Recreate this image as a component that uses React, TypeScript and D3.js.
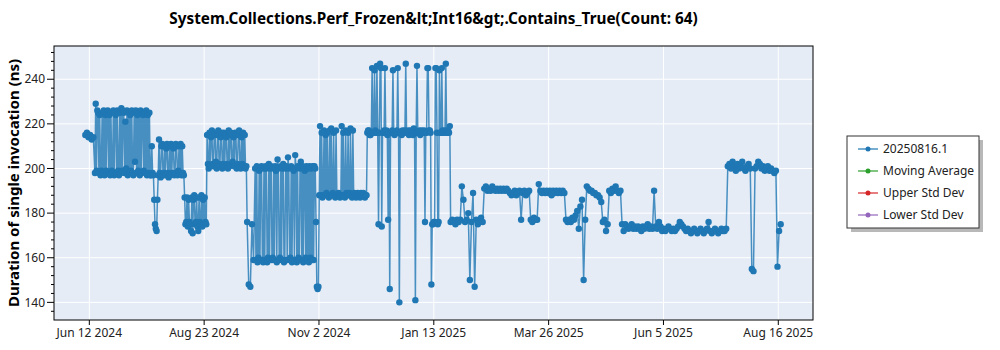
import React from "react";
import * as d3 from "d3";

// ---- data ----
const segmentStartDates = [
  "2024-06-10", "2024-06-16", "2024-07-21", "2024-08-11", "2024-08-25",
  "2024-09-19", "2024-09-24", "2024-11-03", "2024-12-03", "2025-01-24",
  "2025-02-14", "2025-04-06", "2025-04-19", "2025-05-13", "2025-07-16",
];
// measurements per day in each segment (some periods were run twice a day)
const segmentRunsPerDay = [1, 2, 2, 2, 2, 1, 2, 2, 2, 1, 1, 1, 1, 1, 1];

const juneBlock = [215, 216, 214, 215, 213, 214];
const juneJulyBlock = [198, 229, 199, 226, 225, 198, 224, 197, 199, 225, 198, 226, 197, 224, 199, 225, 226, 198, 224, 197, 225, 199, 198, 226, 197, 225, 224, 198, 226, 199, 197, 225, 198, 227, 199, 226, 225, 198, 221, 200, 226, 197, 225, 198, 224, 199, 226, 198, 197, 225, 203, 226, 198, 224, 199, 225, 197, 226, 198, 225, 224, 199, 225, 198, 226, 197, 224, 198, 225, 197];
const julyAugBlock = [197, 210, 198, 197, 186, 175, 173, 172, 186, 197, 213, 198, 196, 210, 211, 197, 198, 210, 197, 209, 211, 198, 196, 210, 197, 211, 198, 210, 209, 197, 198, 211, 210, 197, 199, 210, 198, 211, 197, 210, 198, 197];
const augustBlock = [187, 175, 176, 187, 174, 186, 176, 175, 172, 187, 171, 186, 188, 175, 176, 187, 174, 172, 187, 176, 175, 188, 174, 186, 175, 187, 176, 175];
const septemberBlock = [215, 202, 200, 216, 201, 214, 217, 202, 201, 216, 215, 203, 200, 215, 217, 202, 201, 214, 216, 200, 202, 216, 201, 215, 214, 202, 200, 217, 201, 215, 216, 202, 203, 214, 201, 216, 215, 200, 202, 215, 217, 201, 200, 214, 202, 216, 201, 215, 200, 201];
const septDropBlock = [176, 148, 147, 175, 159];
const octoberBlock = [200, 159, 201, 158, 160, 199, 159, 200, 201, 159, 158, 200, 159, 201, 200, 158, 160, 202, 159, 200, 201, 159, 160, 200, 159, 201, 199, 158, 204, 200, 159, 160, 201, 159, 200, 202, 158, 159, 200, 201, 159, 205, 200, 159, 160, 201, 158, 200, 199, 159, 206, 200, 158, 201, 160, 159, 200, 203, 159, 201, 158, 200, 199, 160, 201, 159, 200, 158, 201, 160, 200, 159, 201, 159, 201, 200, 176, 147, 146, 147];
const novemberBlock = [188, 219, 188, 216, 187, 188, 217, 188, 215, 189, 216, 188, 187, 217, 188, 218, 188, 189, 216, 188, 187, 217, 188, 188, 189, 188, 187, 188, 219, 188, 216, 188, 187, 217, 189, 188, 216, 188, 189, 218, 188, 187, 217, 188, 189, 188, 187, 188, 189, 188, 188, 187, 189, 188, 188, 189, 188, 187, 188, 188];
const decemberBlock = [216, 217, 217, 215, 215, 216, 245, 216, 216, 244, 217, 216, 246, 216, 175, 216, 247, 245, 174, 216, 216, 217, 245, 216, 217, 215, 177, 216, 146, 216, 216, 217, 244, 216, 215, 216, 216, 217, 245, 216, 140, 216, 216, 215, 217, 216, 216, 217, 247, 216, 216, 217, 215, 216, 217, 216, 216, 215, 218, 216, 141, 216, 246, 216, 216, 217, 215, 216, 217, 216, 216, 217, 176, 216, 216, 245, 245, 217, 217, 216, 148, 175, 175, 176, 176, 245, 245, 216, 175, 176, 244, 216, 216, 245, 217, 216, 216, 217, 247, 216, 216, 217, 216, 219];
const januaryBlock = [176, 177, 176, 175, 177, 176, 177, 192, 186, 176, 177, 180, 150, 176, 189, 147, 177, 175, 176, 178, 176];
const februaryBlock = [191, 192, 190, 191, 190, 192, 191, 190, 191, 190, 191, 190, 191, 190, 191, 190, 189, 188, 189, 190, 188, 189, 190, 177, 189, 190, 188, 189, 190, 177, 176, 178, 177, 177, 193, 190, 189, 190, 189, 190, 189, 190, 188, 190, 189, 190, 189, 190, 189, 190, 189];
const aprilBlock = [177, 176, 177, 176, 178, 177, 179, 181, 173, 183, 186, 150, 177];
const lateAprilBlock = [192, 191, 190, 190, 189, 189, 188, 188, 187, 185, 176, 177, 172, 175, 190, 189, 191, 190, 192, 190, 189, 190, 175, 172];
const mayJulyBlock = [175, 174, 173, 174, 175, 173, 174, 173, 174, 173, 172, 174, 173, 174, 175, 173, 174, 173, 190, 174, 173, 176, 174, 172, 173, 172, 173, 174, 173, 172, 173, 172, 173, 174, 176, 175, 174, 173, 172, 173, 172, 171, 172, 173, 172, 171, 172, 173, 172, 171, 172, 173, 176, 172, 171, 172, 173, 172, 171, 172, 173, 172, 172, 173];
const julyAugustBlock = [201, 202, 200, 203, 201, 199, 202, 200, 201, 203, 200, 199, 201, 202, 200, 155, 154, 200, 201, 203, 202, 200, 201, 199, 200, 201, 199, 200, 199, 198, 199, 156, 172, 175];

const segmentValues = [
  juneBlock, juneJulyBlock, julyAugBlock, augustBlock, septemberBlock,
  septDropBlock, octoberBlock, novemberBlock, decemberBlock, januaryBlock,
  februaryBlock, aprilBlock, lateAprilBlock, mayJulyBlock, julyAugustBlock,
];

const xTickDates = [
  "2024-06-12T12:00", "2024-08-23T04:00", "2024-11-02T20:00", "2025-01-13T12:00",
  "2025-03-26T04:00", "2025-06-05T20:00", "2025-08-16T12:00",
];
const yTickValues = [140, 160, 180, 200, 220, 240];
const xDomainDates = ["2024-05-21T11:00", "2025-09-07T04:00"];
const yDomainValues = [132.1, 254.9];

const titleText = "System.Collections.Perf_Frozen&lt;Int16&gt;.Contains_True(Count: 64)";
const yAxisTitle = "Duration of single invocation (ns)";
const legendLabels = ["20250816.1", "Moving Average", "Upper Std Dev", "Lower Std Dev"];
const legendColors = ["#1f77b4", "#2ca02c", "#d62728", "#9467bd"];

// ---- chart ----
const FONT = "'Noto Sans', 'Open Sans', sans-serif";
const parseDay = d3.timeParse("%Y-%m-%d");
const parseDT = d3.timeParse("%Y-%m-%dT%H:%M");
const fmt = d3.timeFormat("%b %-d %Y");

type Pt = { date: Date; value: number };

export default function App() {
  const left = 54, right = 813, top = 46, bottom = 320;

  const points: Pt[] = [];
  segmentStartDates.forEach((s, i) => {
    const start = parseDay(s) as Date;
    const step = 24 / segmentRunsPerDay[i];
    segmentValues[i].forEach((v, j) => {
      points.push({ date: d3.timeHour.offset(start, j * step), value: v });
    });
  });

  const x = d3
    .scaleTime()
    .domain(xDomainDates.map((d) => parseDT(d) as Date))
    .range([left, right]);
  const y = d3.scaleLinear().domain(yDomainValues).range([bottom, top]);

  const line = d3
    .line<Pt>()
    .x((d) => x(d.date))
    .y((d) => y(d.value));

  const xTicks = xTickDates.map((d) => parseDT(d) as Date);
  const minorY = d3
    .range(132, 256, 4)
    .filter((v) => v >= yDomainValues[0] && v <= yDomainValues[1] && v % 20 !== 0);

  const legendX = 847, legendY = 136, legendW = 132, legendH = 92;

  return (
    <svg
      width={1000}
      height={350}
      style={{ position: "absolute", left: 0, top: 0, display: "block", background: "#fff" }}
      fontFamily={FONT}
    >
      <text x={(left + right) / 2} y={24} textAnchor="middle" fontSize={15.3} fontWeight="bold" fill="#000">
        {titleText}
      </text>

      <rect x={left} y={top} width={right - left} height={bottom - top} fill="#e5ecf6" />

      {/* grid */}
      {xTicks.map((t, i) => (
        <line key={"gx" + i} x1={x(t)} x2={x(t)} y1={top} y2={bottom} stroke="#fff" strokeWidth={1} />
      ))}
      {yTickValues.map((v) => (
        <line key={"gy" + v} x1={left} x2={right} y1={y(v)} y2={y(v)} stroke="#fff" strokeWidth={1} />
      ))}

      {/* series */}
      <g>
        <path
          d={line(points) || ""}
          fill="none"
          stroke="#1f77b4"
          strokeWidth={1.5}
          strokeOpacity={0.8}
          strokeLinejoin="round"
        />
        {points.map((p, i) => (
          <circle key={i} cx={x(p.date)} cy={y(p.value)} r={3.2} fill="#1f77b4" />
        ))}
      </g>

      {/* frame */}
      <rect x={left} y={top} width={right - left} height={bottom - top} fill="none" stroke="#000" strokeWidth={1} />

      {/* y axis */}
      {yTickValues.map((v) => (
        <g key={"yt" + v}>
          <line x1={left - 7} x2={left} y1={y(v)} y2={y(v)} stroke="#000" />
          <text x={left - 9} y={y(v)} dy="0.35em" textAnchor="end" fontSize={12} fill="#222">
            {v}
          </text>
        </g>
      ))}
      {minorY.map((v) => (
        <line key={"ym" + v} x1={left - 3} x2={left} y1={y(v)} y2={y(v)} stroke="#000" />
      ))}
      <text
        transform={`translate(14,${(top + bottom) / 2}) rotate(-90)`}
        textAnchor="middle"
        dy="0.35em"
        fontSize={15}
        fontWeight="bold"
        fill="#000"
      >
        {yAxisTitle}
      </text>

      {/* x axis */}
      {xTicks.map((t, i) => (
        <g key={"xt" + i}>
          <line x1={x(t)} x2={x(t)} y1={bottom} y2={bottom + 5} stroke="#000" />
          <text x={x(t)} y={bottom + 17} textAnchor="middle" fontSize={12} fill="#222">
            {fmt(t)}
          </text>
        </g>
      ))}

      {/* legend */}
      <rect x={legendX + 4} y={legendY + 4} width={legendW} height={legendH} fill="#888" opacity={0.6} />
      <rect x={legendX} y={legendY} width={legendW} height={legendH} fill="#fff" stroke="#333" strokeWidth={1} />
      {legendLabels.map((lab, i) => {
        const cy = legendY + 13 + i * 22;
        return (
          <g key={lab}>
            <line
              x1={legendX + 11}
              x2={legendX + 31}
              y1={cy}
              y2={cy}
              stroke={legendColors[i]}
              strokeWidth={1.5}
              strokeOpacity={0.8}
            />
            <circle cx={legendX + 21} cy={cy} r={2.5} fill={legendColors[i]} />
            <text x={legendX + 36} y={cy} dy="0.35em" fontSize={12} fill="#222">
              {lab}
            </text>
          </g>
        );
      })}
    </svg>
  );
}
